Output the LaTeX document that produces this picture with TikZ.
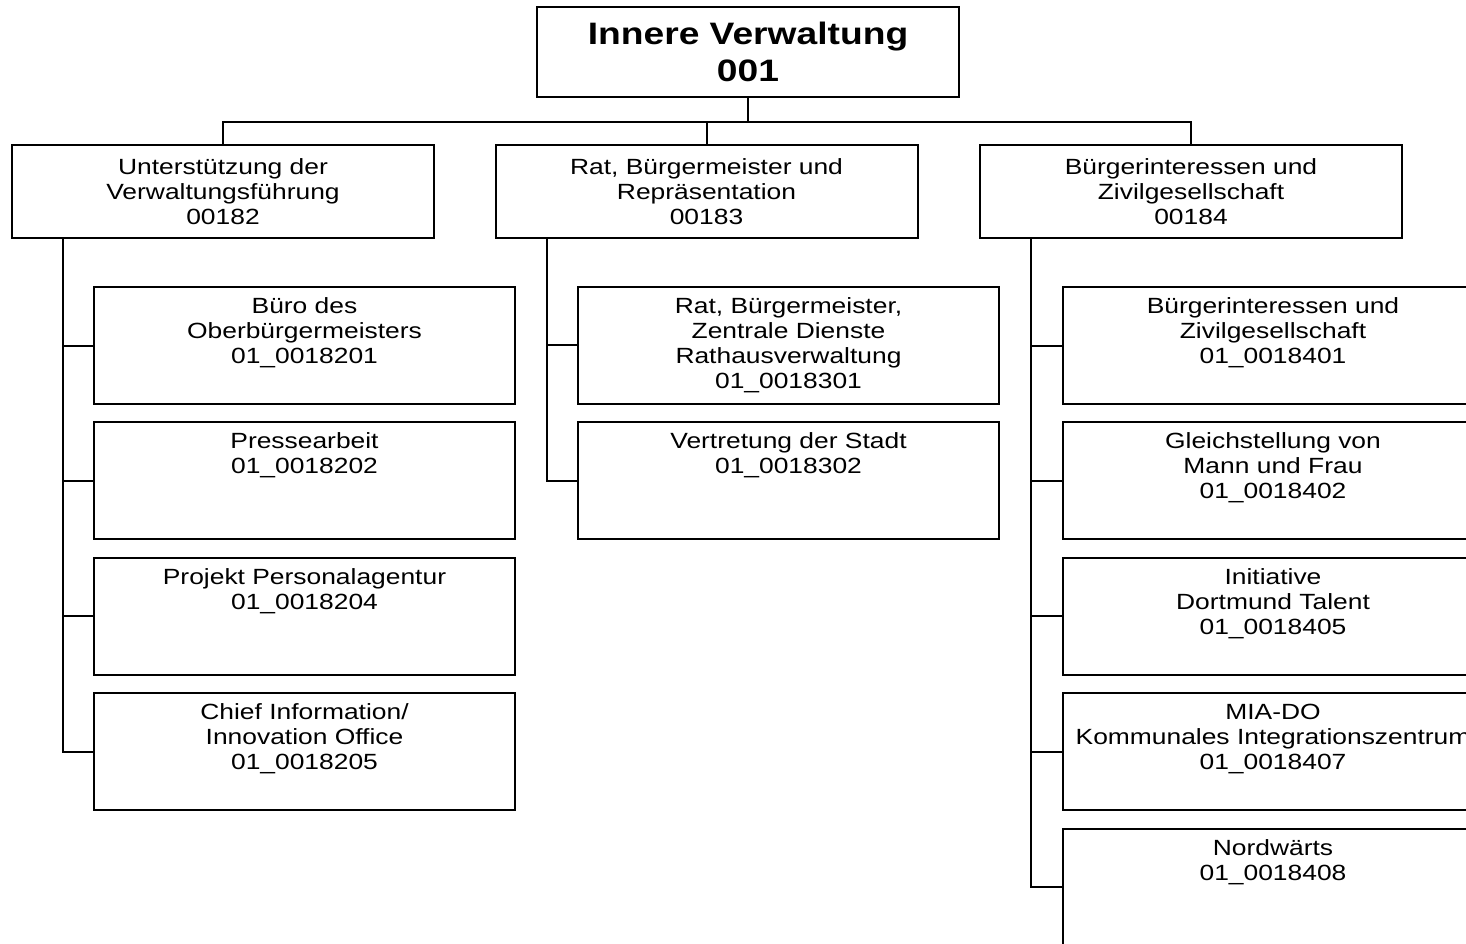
\documentclass[tikz,border=0pt]{standalone}
\usepackage{fontspec}
\setmainfont{Liberation Sans}[FakeStretch=1.2]
\newcommand{\unitbox}[1]{\parbox[t][95pt][t]{399pt}{\centering #1}}

\begin{document}
\begin{tikzpicture}[x=1pt,y=-1pt,
  box/.style={draw=black,line width=2pt,inner sep=0pt,align=center,font=\fontsize{22}{25}\selectfont},
  head/.style={box,minimum width=422pt,minimum height=93pt},
  unit/.style={box,minimum width=421pt,minimum height=117pt,inner sep=11pt},
  link/.style={black,line width=2pt}]
\useasboundingbox (0,0) rectangle (1466,944);
\clip (0,0) rectangle (1466,944);

\node[box,minimum width=422pt,minimum height=90pt,font=\bfseries\fontsize{31}{37}\selectfont] (iv) at (748,52) {Innere Verwaltung\\001};

\node[head] (u182) at (223,191.5) {Unterstützung der\\Verwaltungsführung\\00182};
\node[head] (u183) at (706.5,191.5) {Rat, Bürgermeister und\\Repräsentation\\00183};
\node[head] (u184) at (1191,191.5) {Bürgerinteressen und\\Zivilgesellschaft\\00184};

% left column
\node[unit] (b18201) at (304.5,345.5) {\unitbox{Büro des\\Oberbürgermeisters\\01\_0018201}};
\node[unit] (b18202) at (304.5,480.5) {\unitbox{Pressearbeit\\01\_0018202}};
\node[unit] (b18204) at (304.5,616) {\unitbox{Projekt Personalagentur\\01\_0018204}};
\node[unit] (b18205) at (304.5,751.5) {\unitbox{Chief Information/\\Innovation Office\\01\_0018205}};

% middle column
\node[unit] (b18301) at (788.5,345) {\unitbox{Rat, Bürgermeister,\\Zentrale Dienste\\Rathausverwaltung\\01\_0018301}};
\node[unit] (b18302) at (788.5,480.5) {\unitbox{Vertretung der Stadt\\01\_0018302}};

% right column
\node[unit] (b18401) at (1273,345.5) {\unitbox{Bürgerinteressen und\\Zivilgesellschaft\\01\_0018401}};
\node[unit] (b18402) at (1273,480.5) {\unitbox{Gleichstellung von\\Mann und Frau\\01\_0018402}};
\node[unit] (b18405) at (1273,616) {\unitbox{Initiative\\Dortmund Talent\\01\_0018405}};
\node[unit] (b18407) at (1273,751.5) {\unitbox{MIA-DO\\Kommunales Integrationszentrum\\01\_0018407}};
\node[unit] (b18408) at (1273,887) {\unitbox{Nordwärts\\01\_0018408}};

\coordinate (bar) at (748,122);
\draw[link] (iv.south) -- (iv.south |- bar);
\draw[link] (u182.north) -- (u182.north |- bar) -| (u184.north);
\draw[link] (u183.north) -- (u183.north |- bar);

\coordinate (sa) at (63,238);
\coordinate (sb) at (547,238);
\coordinate (sc) at (1031,238);
\draw[link] (sa) |- (b18205.west);
\foreach \n in {b18201,b18202,b18204}
  \draw[link] (\n.west) -- (\n.west -| sa);
\draw[link] (sb) |- (b18302.west);
\draw[link] (b18301.west) -- (b18301.west -| sb);
\draw[link] (sc) |- (b18408.west);
\foreach \n in {b18401,b18402,b18405,b18407}
  \draw[link] (\n.west) -- (\n.west -| sc);
\end{tikzpicture}
\end{document}
